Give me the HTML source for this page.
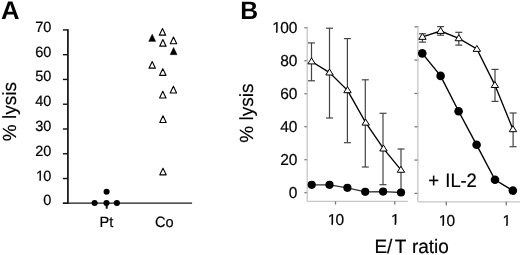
<!DOCTYPE html>
<html><head><meta charset="utf-8"><style>
html,body{margin:0;padding:0;background:#fff;width:520px;height:255px;overflow:hidden}
svg{display:block;will-change:transform}
text{font-family:"Liberation Sans", sans-serif;fill:#000;text-rendering:geometricPrecision;stroke:#000;stroke-width:0.2px}
text[font-weight=bold]{stroke:none}
</style></head><body>
<svg xmlns="http://www.w3.org/2000/svg" width="520" height="255" viewBox="0 0 520 255">
<text transform="translate(1.00,18.90) scale(1.07,1.06)" font-size="24" text-anchor="start" font-weight="bold" >A</text>
<text transform="translate(16.20,111.60) rotate(-90)" font-size="19" text-anchor="middle" font-weight="normal" style="stroke-width:0.15px">% lysis</text>
<line x1="62.90" y1="203.30" x2="67.90" y2="203.30" stroke="#111" stroke-width="1.4"/>
<text transform="translate(43.34,205.30) scale(1,1.02)" font-size="14.5" text-anchor="start" font-weight="normal" >0</text>
<line x1="62.90" y1="178.53" x2="67.90" y2="178.53" stroke="#111" stroke-width="1.4"/>
<text transform="translate(35.27,180.53) scale(1,1.02)" font-size="14.5" text-anchor="start" font-weight="normal" ><tspan dx="0.65">1</tspan><tspan dx="-0.65">0</tspan></text><rect x="36" y="179" width="8" height="2" fill="#fff"/><rect x="39.37" y="179" width="1.50" height="1.73" fill="#000"/>
<line x1="62.90" y1="153.76" x2="67.90" y2="153.76" stroke="#111" stroke-width="1.4"/>
<text transform="translate(35.27,155.76) scale(1,1.02)" font-size="14.5" text-anchor="start" font-weight="normal" >20</text>
<line x1="62.90" y1="128.99" x2="67.90" y2="128.99" stroke="#111" stroke-width="1.4"/>
<text transform="translate(35.27,130.99) scale(1,1.02)" font-size="14.5" text-anchor="start" font-weight="normal" >30</text>
<line x1="62.90" y1="104.22" x2="67.90" y2="104.22" stroke="#111" stroke-width="1.4"/>
<text transform="translate(35.27,106.22) scale(1,1.02)" font-size="14.5" text-anchor="start" font-weight="normal" >40</text>
<line x1="62.90" y1="79.45" x2="67.90" y2="79.45" stroke="#111" stroke-width="1.4"/>
<text transform="translate(35.27,81.45) scale(1,1.02)" font-size="14.5" text-anchor="start" font-weight="normal" >50</text>
<line x1="62.90" y1="54.68" x2="67.90" y2="54.68" stroke="#111" stroke-width="1.4"/>
<text transform="translate(35.27,56.68) scale(1,1.02)" font-size="14.5" text-anchor="start" font-weight="normal" >60</text>
<line x1="62.90" y1="29.91" x2="67.90" y2="29.91" stroke="#111" stroke-width="1.4"/>
<text transform="translate(35.27,31.91) scale(1,1.02)" font-size="14.5" text-anchor="start" font-weight="normal" >70</text>
<line x1="67.90" y1="29.20" x2="67.90" y2="204.00" stroke="#111" stroke-width="1.7"/>
<line x1="62.90" y1="203.20" x2="192.10" y2="203.20" stroke="#1a1a1a" stroke-width="1.25"/>
<line x1="106.70" y1="203.30" x2="106.70" y2="208.70" stroke="#111" stroke-width="2.0"/>
<text transform="translate(106.40,227.40) scale(1,1.02)" font-size="14.6" text-anchor="middle" font-weight="normal" >Pt</text>
<text transform="translate(164.30,227.30) scale(1,1.02)" font-size="14.6" text-anchor="middle" font-weight="normal" >Co</text>
<circle cx="94.60" cy="203.00" r="3.05" fill="#000"/>
<circle cx="106.50" cy="203.00" r="3.05" fill="#000"/>
<circle cx="116.90" cy="203.00" r="3.05" fill="#000"/>
<circle cx="106.60" cy="191.70" r="3.05" fill="#000"/>
<polygon points="162.50,28.45 165.70,35.15 159.30,35.15" fill="#fff" stroke="#000" stroke-width="1.1" stroke-linejoin="round"/>
<polygon points="162.90,39.45 166.10,46.15 159.70,46.15" fill="#fff" stroke="#000" stroke-width="1.1" stroke-linejoin="round"/>
<polygon points="173.50,37.05 176.70,43.75 170.30,43.75" fill="#fff" stroke="#000" stroke-width="1.1" stroke-linejoin="round"/>
<polygon points="152.20,61.45 155.40,68.15 149.00,68.15" fill="#fff" stroke="#000" stroke-width="1.1" stroke-linejoin="round"/>
<polygon points="162.80,68.65 166.00,75.35 159.60,75.35" fill="#fff" stroke="#000" stroke-width="1.1" stroke-linejoin="round"/>
<polygon points="173.40,86.25 176.60,92.95 170.20,92.95" fill="#fff" stroke="#000" stroke-width="1.1" stroke-linejoin="round"/>
<polygon points="162.80,91.25 166.00,97.95 159.60,97.95" fill="#fff" stroke="#000" stroke-width="1.1" stroke-linejoin="round"/>
<polygon points="163.00,115.75 166.20,122.45 159.80,122.45" fill="#fff" stroke="#000" stroke-width="1.1" stroke-linejoin="round"/>
<polygon points="163.00,168.15 166.20,174.85 159.80,174.85" fill="#fff" stroke="#000" stroke-width="1.1" stroke-linejoin="round"/>
<polygon points="152.20,33.95 155.80,41.45 148.60,41.45" fill="#000" stroke="#000" stroke-width="0.3" stroke-linejoin="round"/>
<polygon points="173.60,47.25 177.20,54.75 170.00,54.75" fill="#000" stroke="#000" stroke-width="0.3" stroke-linejoin="round"/>
<text transform="translate(240.20,19.20) scale(1.03,1.05)" font-size="24" text-anchor="start" font-weight="bold" >B</text>
<text transform="translate(253.00,113.10) rotate(-90)" font-size="19" text-anchor="middle" font-weight="normal" style="stroke-width:0.15px">% lysis</text>
<line x1="304.40" y1="192.70" x2="307.80" y2="192.70" stroke="#7a7a7a" stroke-width="1.3"/>
<text transform="translate(288.78,197.50) scale(1,1.02)" font-size="15.5" text-anchor="start" font-weight="normal" >0</text>
<line x1="304.40" y1="159.70" x2="307.80" y2="159.70" stroke="#7a7a7a" stroke-width="1.3"/>
<text transform="translate(280.16,164.50) scale(1,1.02)" font-size="15.5" text-anchor="start" font-weight="normal" >20</text>
<line x1="304.40" y1="126.70" x2="307.80" y2="126.70" stroke="#7a7a7a" stroke-width="1.3"/>
<text transform="translate(280.16,131.50) scale(1,1.02)" font-size="15.5" text-anchor="start" font-weight="normal" >40</text>
<line x1="304.40" y1="93.70" x2="307.80" y2="93.70" stroke="#7a7a7a" stroke-width="1.3"/>
<text transform="translate(280.16,98.50) scale(1,1.02)" font-size="15.5" text-anchor="start" font-weight="normal" >60</text>
<line x1="304.40" y1="60.70" x2="307.80" y2="60.70" stroke="#7a7a7a" stroke-width="1.3"/>
<text transform="translate(280.16,65.50) scale(1,1.02)" font-size="15.5" text-anchor="start" font-weight="normal" >80</text>
<line x1="304.40" y1="27.70" x2="307.80" y2="27.70" stroke="#7a7a7a" stroke-width="1.3"/>
<text transform="translate(271.54,32.50) scale(1,1.02)" font-size="15.5" text-anchor="start" font-weight="normal" ><tspan dx="0.70">1</tspan><tspan dx="-0.70">0</tspan>0</text><rect x="272" y="31" width="9" height="2" fill="#fff"/><rect x="275.93" y="31" width="1.59" height="1.70" fill="#000"/>
<line x1="307.20" y1="27.20" x2="307.20" y2="201.35" stroke="#c6c6c6" stroke-width="1.3"/>
<line x1="307.20" y1="201.35" x2="407.80" y2="201.35" stroke="#c6c6c6" stroke-width="1.3"/>
<line x1="335.50" y1="201.35" x2="335.50" y2="204.60" stroke="#7a7a7a" stroke-width="1.3"/>
<line x1="394.80" y1="201.35" x2="394.80" y2="204.60" stroke="#7a7a7a" stroke-width="1.3"/>
<text transform="translate(326.98,224.60) scale(1,1.02)" font-size="15.5" text-anchor="start" font-weight="normal" ><tspan dx="0.70">1</tspan><tspan dx="-0.70">0</tspan></text><rect x="328" y="223" width="9" height="2" fill="#fff"/><rect x="331.37" y="223" width="1.59" height="1.80" fill="#000"/>
<text transform="translate(390.19,224.60) scale(1,1.02)" font-size="15.5" text-anchor="start" font-weight="normal" ><tspan dx="0.70">1</tspan></text><rect x="391" y="223" width="9" height="2" fill="#fff"/><rect x="394.59" y="223" width="1.59" height="1.80" fill="#000"/>
<line x1="414.50" y1="193.40" x2="418.45" y2="193.40" stroke="#7a7a7a" stroke-width="1.3"/>
<line x1="414.50" y1="160.08" x2="418.45" y2="160.08" stroke="#7a7a7a" stroke-width="1.3"/>
<line x1="414.50" y1="126.76" x2="418.45" y2="126.76" stroke="#7a7a7a" stroke-width="1.3"/>
<line x1="414.50" y1="93.44" x2="418.45" y2="93.44" stroke="#7a7a7a" stroke-width="1.3"/>
<line x1="414.50" y1="60.12" x2="418.45" y2="60.12" stroke="#7a7a7a" stroke-width="1.3"/>
<line x1="414.50" y1="26.80" x2="418.45" y2="26.80" stroke="#7a7a7a" stroke-width="1.3"/>
<line x1="417.85" y1="26.20" x2="417.85" y2="201.85" stroke="#c6c6c6" stroke-width="1.3"/>
<line x1="417.85" y1="201.85" x2="520.00" y2="201.85" stroke="#c6c6c6" stroke-width="1.3"/>
<line x1="446.30" y1="201.85" x2="446.30" y2="205.40" stroke="#7a7a7a" stroke-width="1.3"/>
<line x1="506.30" y1="201.85" x2="506.30" y2="205.40" stroke="#7a7a7a" stroke-width="1.3"/>
<text transform="translate(437.98,225.60) scale(1,1.02)" font-size="15.5" text-anchor="start" font-weight="normal" ><tspan dx="0.70">1</tspan><tspan dx="-0.70">0</tspan></text><rect x="439" y="224" width="9" height="2" fill="#fff"/><rect x="442.37" y="224" width="1.59" height="1.80" fill="#000"/>
<text transform="translate(501.69,225.60) scale(1,1.02)" font-size="15.5" text-anchor="start" font-weight="normal" ><tspan dx="0.70">1</tspan></text><rect x="502" y="224" width="9" height="2" fill="#fff"/><rect x="506.09" y="224" width="1.59" height="1.80" fill="#000"/>
<text transform="translate(374.40,252.50) scale(1,1.02)" font-size="19" text-anchor="start" font-weight="normal" >E/<tspan dx="2.3">T</tspan><tspan dx="0.7"> ratio</tspan></text>
<text transform="translate(428.30,186.60) scale(1,1.05)" font-size="18.5" text-anchor="start" font-weight="normal" >+<tspan dx="1.0"> IL</tspan><tspan dx="-0.3">-2</tspan></text>
<line x1="311.50" y1="42.90" x2="311.50" y2="80.80" stroke="#444" stroke-width="1.2"/><line x1="308.00" y1="42.90" x2="315.00" y2="42.90" stroke="#444" stroke-width="1.2"/><line x1="308.00" y1="80.80" x2="315.00" y2="80.80" stroke="#444" stroke-width="1.2"/>
<line x1="329.50" y1="28.20" x2="329.50" y2="118.00" stroke="#444" stroke-width="1.2"/><line x1="326.00" y1="28.20" x2="333.00" y2="28.20" stroke="#444" stroke-width="1.2"/><line x1="326.00" y1="118.00" x2="333.00" y2="118.00" stroke="#444" stroke-width="1.2"/>
<line x1="347.40" y1="38.60" x2="347.40" y2="142.70" stroke="#444" stroke-width="1.2"/><line x1="343.90" y1="38.60" x2="350.90" y2="38.60" stroke="#444" stroke-width="1.2"/><line x1="343.90" y1="142.70" x2="350.90" y2="142.70" stroke="#444" stroke-width="1.2"/>
<line x1="365.30" y1="79.80" x2="365.30" y2="167.00" stroke="#444" stroke-width="1.2"/><line x1="361.80" y1="79.80" x2="368.80" y2="79.80" stroke="#444" stroke-width="1.2"/><line x1="361.80" y1="167.00" x2="368.80" y2="167.00" stroke="#444" stroke-width="1.2"/>
<line x1="383.00" y1="113.30" x2="383.00" y2="184.70" stroke="#444" stroke-width="1.2"/><line x1="379.50" y1="113.30" x2="386.50" y2="113.30" stroke="#444" stroke-width="1.2"/><line x1="379.50" y1="184.70" x2="386.50" y2="184.70" stroke="#444" stroke-width="1.2"/>
<line x1="401.00" y1="149.00" x2="401.00" y2="192.00" stroke="#444" stroke-width="1.2"/><line x1="397.50" y1="149.00" x2="404.50" y2="149.00" stroke="#444" stroke-width="1.2"/><line x1="397.50" y1="192.00" x2="404.50" y2="192.00" stroke="#444" stroke-width="1.2"/>
<polyline points="311.55,61.50 329.50,72.60 347.50,90.30 365.70,122.70 383.50,148.60 400.95,169.90" fill="none" stroke="#000" stroke-width="1.35"/>
<polyline points="311.70,184.80 329.50,184.80 347.40,187.80 365.20,191.80 383.10,191.60 401.00,192.50" fill="none" stroke="#333" stroke-width="1.3"/>
<polygon points="311.55,57.90 315.25,63.90 307.85,63.90" fill="#fff" stroke="#000" stroke-width="1.0" stroke-linejoin="round"/>
<polygon points="329.50,69.00 333.20,75.00 325.80,75.00" fill="#fff" stroke="#000" stroke-width="1.0" stroke-linejoin="round"/>
<polygon points="347.50,86.70 351.20,92.70 343.80,92.70" fill="#fff" stroke="#000" stroke-width="1.0" stroke-linejoin="round"/>
<polygon points="365.70,119.10 369.40,125.10 362.00,125.10" fill="#fff" stroke="#000" stroke-width="1.0" stroke-linejoin="round"/>
<polygon points="383.50,145.00 387.20,151.00 379.80,151.00" fill="#fff" stroke="#000" stroke-width="1.0" stroke-linejoin="round"/>
<polygon points="400.95,166.30 404.65,172.30 397.25,172.30" fill="#fff" stroke="#000" stroke-width="1.0" stroke-linejoin="round"/>
<circle cx="311.70" cy="184.80" r="4.10" fill="#000"/>
<circle cx="329.50" cy="184.80" r="4.10" fill="#000"/>
<circle cx="347.40" cy="187.80" r="4.10" fill="#000"/>
<circle cx="365.20" cy="191.80" r="4.10" fill="#000"/>
<circle cx="383.10" cy="191.60" r="4.10" fill="#000"/>
<circle cx="401.00" cy="192.50" r="4.10" fill="#000"/>
<line x1="422.45" y1="33.80" x2="422.45" y2="42.10" stroke="#444" stroke-width="1.2"/><line x1="418.95" y1="33.80" x2="425.95" y2="33.80" stroke="#444" stroke-width="1.2"/><line x1="418.95" y1="42.10" x2="425.95" y2="42.10" stroke="#444" stroke-width="1.2"/>
<line x1="440.60" y1="26.60" x2="440.60" y2="35.20" stroke="#444" stroke-width="1.2"/><line x1="437.10" y1="26.60" x2="444.10" y2="26.60" stroke="#444" stroke-width="1.2"/><line x1="437.10" y1="35.20" x2="444.10" y2="35.20" stroke="#444" stroke-width="1.2"/>
<line x1="458.80" y1="32.30" x2="458.80" y2="45.10" stroke="#444" stroke-width="1.2"/><line x1="455.30" y1="32.30" x2="462.30" y2="32.30" stroke="#444" stroke-width="1.2"/><line x1="455.30" y1="45.10" x2="462.30" y2="45.10" stroke="#444" stroke-width="1.2"/>
<line x1="495.00" y1="69.40" x2="495.00" y2="101.40" stroke="#444" stroke-width="1.2"/><line x1="491.50" y1="69.40" x2="498.50" y2="69.40" stroke="#444" stroke-width="1.2"/><line x1="491.50" y1="101.40" x2="498.50" y2="101.40" stroke="#444" stroke-width="1.2"/>
<line x1="513.10" y1="113.00" x2="513.10" y2="146.70" stroke="#444" stroke-width="1.2"/><line x1="509.60" y1="113.00" x2="516.60" y2="113.00" stroke="#444" stroke-width="1.2"/><line x1="509.60" y1="146.70" x2="516.60" y2="146.70" stroke="#444" stroke-width="1.2"/>
<polyline points="422.45,36.95 440.60,31.00 458.80,38.35 476.85,49.00 494.90,85.10 512.95,129.30" fill="none" stroke="#000" stroke-width="1.35"/>
<polyline points="422.25,53.35 440.60,75.90 458.60,111.20 476.60,144.80 495.00,179.80 512.85,190.60" fill="none" stroke="#000" stroke-width="1.4"/>
<polygon points="422.45,33.35 426.15,39.35 418.75,39.35" fill="#fff" stroke="#000" stroke-width="1.0" stroke-linejoin="round"/>
<polygon points="440.60,27.40 444.30,33.40 436.90,33.40" fill="#fff" stroke="#000" stroke-width="1.0" stroke-linejoin="round"/>
<polygon points="458.80,34.75 462.50,40.75 455.10,40.75" fill="#fff" stroke="#000" stroke-width="1.0" stroke-linejoin="round"/>
<polygon points="476.85,45.40 480.55,51.40 473.15,51.40" fill="#fff" stroke="#000" stroke-width="1.0" stroke-linejoin="round"/>
<polygon points="494.90,81.50 498.60,87.50 491.20,87.50" fill="#fff" stroke="#000" stroke-width="1.0" stroke-linejoin="round"/>
<polygon points="512.95,125.70 516.65,131.70 509.25,131.70" fill="#fff" stroke="#000" stroke-width="1.0" stroke-linejoin="round"/>
<circle cx="422.25" cy="53.35" r="4.30" fill="#000"/>
<circle cx="440.60" cy="75.90" r="4.30" fill="#000"/>
<circle cx="458.60" cy="111.20" r="4.30" fill="#000"/>
<circle cx="476.60" cy="144.80" r="4.30" fill="#000"/>
<circle cx="495.00" cy="179.80" r="4.30" fill="#000"/>
<circle cx="512.85" cy="190.60" r="4.30" fill="#000"/>
</svg>
</body></html>
